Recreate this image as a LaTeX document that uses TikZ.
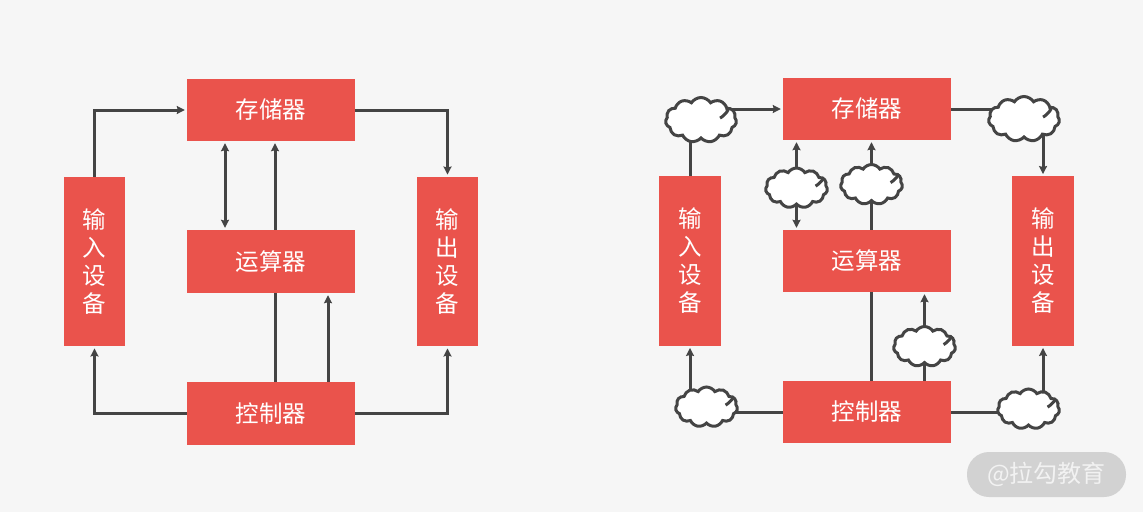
\documentclass[tikz,border=0pt]{standalone}
\usepackage{fontspec}
\setmainfont{Noto Sans CJK SC}
\usetikzlibrary{arrows.meta,shapes.symbols,backgrounds}
\definecolor{boxred}{HTML}{EA534C}
\definecolor{linegray}{HTML}{444444}
\tikzset{
    unit/.style={fill=boxred, text=white, font=\fontsize{23.5}{28}\selectfont, inner sep=0pt, align=center},
    wide/.style={unit, minimum width=168pt, minimum height=62pt},
    tall/.style={unit, minimum width=61.5pt, minimum height=169.5pt},
    netcloud/.style={cloud, cloud puffs=11, cloud puff arc=115, draw=linegray, line width=3pt, fill=white,
                     minimum width=#1, minimum height=40pt, inner sep=0pt, aspect=1.6},
    bus/.style={draw=linegray, line width=3pt},
    flow/.style={bus, -{Stealth[length=8pt,width=8pt,inset=1pt]}, shorten >=2pt},
    flowboth/.style={flow, {Stealth[length=8pt,width=8pt,inset=1pt]}-{Stealth[length=8pt,width=8pt,inset=1pt]}, shorten <=2pt}
}
\begin{document}
\begin{tikzpicture}[x=1pt, y=-1pt]

% left machine
\node[wide] (storeL) at (271,110) {存储器};
\node[wide, minimum height=63pt] (calcL) at (271,261.5) {运算器};
\node[wide, minimum height=63pt] (ctrlL) at (271,413.5) {控制器};
\node[tall] (inL) at (94.5,261.5) {输\\入\\设\\备};
\node[tall] (outL) at (447.5,261.5) {输\\出\\设\\备};

% right machine
\node[wide] (storeR) at (867,109) {存储器};
\node[wide] (calcR) at (867,261) {运算器};
\node[wide] (ctrlR) at (867,412) {控制器};
\node[tall] (inR) at (690,261) {输\\入\\设\\备};
\node[tall] (outR) at (1043,261) {输\\出\\设\\备};

\node[netcloud=71pt, minimum height=45pt] (cloudA) at (701,120) {};
\node[netcloud=71pt, minimum height=45pt] (cloudB) at (1024,119) {};
\node[netcloud=62pt] (cloudC) at (796.5,188) {};
\node[netcloud=62pt] (cloudD) at (871.5,184.5) {};
\node[netcloud=62pt] (cloudE) at (924.5,346.5) {};
\node[netcloud=62pt] (cloudF) at (706.5,407) {};
\node[netcloud=62pt] (cloudG) at (1028.5,409) {};

\foreach \c in {cloudA,cloudB,cloudC,cloudD,cloudE,cloudF,cloudG}
    \draw[draw=linegray, line width=3pt] ([shift={(19pt,2pt)}]\c.center) .. controls +(3pt,1pt) and +(5pt,3pt) .. +(6pt,7pt);

\node[fill=gray!35, rounded corners=22pt, minimum width=159pt, minimum height=45pt, inner sep=0pt,
      text=white!90!gray, font=\fontsize{24}{26}\selectfont] (mark) at (1046.5,474.5) {@拉勾教育};

\begin{scope}[on background layer]
\fill[white!96.5!black] (0,0) rectangle (1143,512);

\draw[flow] (inL.north) |- (storeL.west);
\draw[flow] (storeL.east) -| (outL.north);
\draw[flow] (ctrlL.west) -| (inL.south);
\draw[flow] (ctrlL.east) -| (outL.south);
\draw[flowboth] ([xshift=-46pt]storeL.south) -- ([xshift=-46pt]calcL.north);
\draw[flow] ([xshift=4pt]calcL.north) -- ([xshift=4pt]storeL.south);
\draw[bus] ([xshift=4pt]ctrlL.north) -- ([xshift=4pt]calcL.south);
\draw[flow] ([xshift=57pt]ctrlL.north) -- ([xshift=57pt]calcL.south);

\draw[bus] (inR.north) -- (inR.north |- cloudA.center);
\draw[flow] (cloudA.center |- storeR.west) -- (storeR.west);
\draw[bus] (storeR.east) -- (cloudB.center |- storeR.east);
\draw[flow] (outR.north |- cloudB.center) -- (outR.north);
\draw[flow] (cloudC.center) -- (cloudC.center |- storeR.south);
\draw[flow] (cloudC.center) -- (cloudC.center |- calcR.north);
\draw[flow] (cloudD.center) -- (cloudD.center |- storeR.south);
\draw[bus] (cloudD.center) -- (cloudD.center |- calcR.north);
\draw[bus] (cloudD.center |- calcR.south) -- (cloudD.center |- ctrlR.north);
\draw[flow] (cloudE.center) -- (cloudE.center |- calcR.south);
\draw[bus] (cloudE.center) -- (cloudE.center |- ctrlR.north);
\draw[bus] (ctrlR.west) -- (cloudF.center |- ctrlR.west);
\draw[flow] (inR.south |- cloudF.center) -- (inR.south);
\draw[bus] (ctrlR.east) -- (cloudG.center |- ctrlR.east);
\draw[flow] (outR.south |- cloudG.center) -- (outR.south);
\end{scope}

\end{tikzpicture}
\end{document}
